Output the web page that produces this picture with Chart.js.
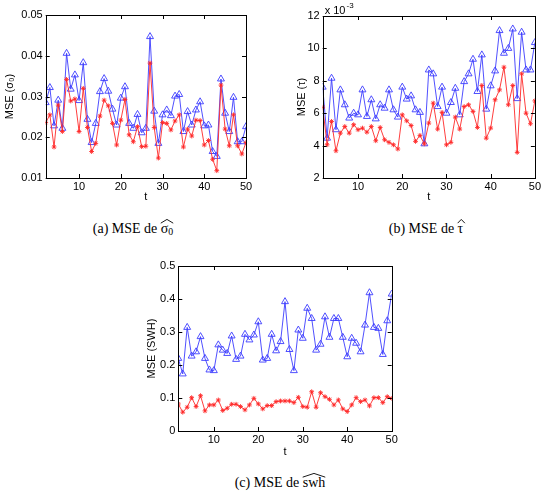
<!DOCTYPE html>
<html>
<head>
<meta charset="utf-8">
<script src="https://cdn.jsdelivr.net/npm/chart.js@4.4.1/dist/chart.umd.min.js"></script>
<style>
  body { margin:0; background:#fff; width:543px; height:499px; position:relative; overflow:hidden; }
  canvas { position:absolute; }
  .cap { position:absolute; font-family:"Liberation Serif", "Times New Roman", serif; font-size:14px; white-space:nowrap; transform:translate(-50%,-50%); }
  .hat { position:relative; display:inline-block; }
  .hat svg { position:absolute; left:0; top:-2px; width:100%; height:5px; overflow:visible; }
  sub { font-size:70%; vertical-align:-2px; line-height:0; }
</style>
</head>
<body>
<canvas id="chartA" width="255" height="205" style="left:0;top:0"></canvas>
<canvas id="chartB" width="253" height="205" style="left:290px;top:0"></canvas>
<canvas id="chartC" width="260" height="212" style="left:140px;top:250px"></canvas>

<div class="cap" style="left:133px;top:229px">(a) MSE de <span class="hat">σ<sub>0</sub><svg viewBox="0 0 20 6" preserveAspectRatio="none"><path d="M0 5 L10 0.5 L20 5" fill="none" stroke="#000" stroke-width="0.9" vector-effect="non-scaling-stroke"/></svg></span></div>
<div class="cap" style="left:426px;top:229px">(b) MSE de <span class="hat">τ<svg viewBox="0 0 20 6" preserveAspectRatio="none" style="left:-1px;width:9px"><path d="M2 5 L10 0.5 L18 5" fill="none" stroke="#000" stroke-width="0.9" vector-effect="non-scaling-stroke"/></svg></span></div>
<div class="cap" style="left:280px;top:483px">(c) MSE de <span class="hat">swh<svg viewBox="0 0 20 6" preserveAspectRatio="none"><path d="M0 5 L10 0.5 L20 5" fill="none" stroke="#000" stroke-width="0.9" vector-effect="non-scaling-stroke"/></svg></span></div>

<script>
// time steps
const t = [2, 3, 4, 5, 6, 7, 8, 9, 10, 11, 12, 13, 14, 15, 16, 17, 18, 19, 20, 21, 22, 23, 24, 25, 26,
  27, 28, 29, 30, 31, 32, 33, 34, 35, 36, 37, 38, 39, 40, 41, 42, 43, 44, 45, 46, 47, 48, 49, 50];
const xTicks = [10, 20, 30, 40, 50];

// (a) MSE of sigma0
const sigmaBlue = [.0285, .0322, .0228, .0291, .0222, .0406, .0318, .0353, .0290, .0383, .0244, .0187, .0234,
  .0312, .0344, .0313, .0269, .0230, .0296, .0324, .0234, .0222, .0256, .0211, .0222, .0447, .0264, .0185,
  .0255, .0267, .0253, .0301, .0305, .0214, .0263, .0230, .0267, .0287, .0228, .0230, .0165, .0153, .0343,
  .0259, .0214, .0298, .0189, .0189, .0226];
const sigmaRed = [.0236, .0255, .0176, .0279, .0214, .0342, .0289, .0294, .0214, .0320, .0224, .0165, .0185,
  .0252, .0291, .0277, .0234, .0181, .0242, .0293, .0206, .0189, .0226, .0177, .0178, .0382, .0224, .0149,
  .0236, .0234, .0218, .0240, .0255, .0176, .0220, .0203, .0242, .0241, .0181, .0192, .0146, .0118, .0328,
  .0220, .0179, .0255, .0179, .0159, .0187];
const sigmaTicks = [0.01, 0.02, 0.03, 0.04, 0.05];
const sigmaLabels = ['0.01', '0.02', '0.03', '0.04', '0.05'];

// (b) MSE of tau, in units of 1e-3
const tauBlue = [7.61, 4.46, 8.16, 4.98, 7.44, 6.52, 5.70, 6.0, 5.9, 7.44, 5.80, 6.83, 5.65, 6.52, 6.31, 7.44,
  6.21, 5.76, 7.61, 6.87, 7.07, 6.21, 6.05, 4.11, 8.67, 8.43, 6.41, 7.61, 6.0, 6.66, 7.54, 5.9, 7.95, 8.43,
  9.33, 7.34, 9.6, 6.25, 7.69, 8.61, 11.1, 9.7, 10.0, 11.2, 6.9, 11.0, 8.67, 8.67, 10.36];
const tauRed = [6.37, 4.05, 5.49, 3.68, 4.77, 5.18, 4.77, 5.29, 4.98, 5.08, 4.83, 5.18, 4.30, 5.12, 4.36, 4.20,
  4.05, 3.79, 5.90, 5.53, 5.24, 4.26, 4.63, 4.11, 5.39, 6.62, 5.02, 6.05, 4.05, 4.20, 5.76, 5.02, 6.41, 6.52,
  6.11, 5.12, 7.71, 4.46, 5.08, 6.83, 7.44, 8.84, 6.52, 7.71, 3.58, 8.43, 6.0, 5.35, 6.76];
const tauTicks = [2, 4, 6, 8, 10, 12];
const tauLabels = ['2', '4', '6', '8', '10', '12'];

// (c) MSE of SWH
const swhBlue = [.220, .173, .314, .227, .240, .286, .220, .185, .183, .261, .245, .235, .288, .217, .227, .293,
  .276, .291, .331, .215, .220, .293, .243, .271, .392, .247, .183, .306, .281, .372, .341, .245, .263, .346,
  .284, .341, .341, .284, .225, .281, .266, .240, .321, .419, .314, .311, .232, .334, .415];
const swhRed = [.082, .057, .072, .101, .074, .107, .061, .079, .079, .094, .062, .069, .081, .081, .074, .064,
  .079, .099, .082, .067, .077, .077, .089, .091, .091, .091, .086, .102, .074, .072, .119, .072, .116, .104,
  .096, .079, .094, .067, .059, .079, .101, .089, .094, .076, .101, .101, .086, .104, .099];
const swhTicks = [0, 0.1, 0.2, 0.3, 0.4, 0.5];
const swhLabels = ['0', '0.1', '0.2', '0.3', '0.4', '0.5'];

const FONT = '"Liberation Sans", Arial, sans-serif';

// matlab style box with inward ticks
const boxPlugin = {
  id: 'box',
  afterDraw(chart) {
    const { ctx, chartArea: a, scales: { x, y } } = chart;
    ctx.save();
    ctx.strokeStyle = '#000';
    ctx.lineWidth = 1;
    ctx.strokeRect(Math.round(a.left) + 0.5, Math.round(a.top) + 0.5,
      Math.round(a.right) - Math.round(a.left), Math.round(a.bottom) - Math.round(a.top));
    ctx.beginPath();
    x.ticks.forEach(tk => {
      const px = Math.round(x.getPixelForValue(tk.value)) + 0.5;
      ctx.moveTo(px, a.bottom); ctx.lineTo(px, a.bottom - 4);
      ctx.moveTo(px, a.top); ctx.lineTo(px, a.top + 4);
    });
    y.ticks.forEach(tk => {
      const py = Math.round(y.getPixelForValue(tk.value)) + 0.5;
      ctx.moveTo(a.left, py); ctx.lineTo(a.left + 4, py);
      ctx.moveTo(a.right, py); ctx.lineTo(a.right - 4, py);
    });
    ctx.stroke();
    const ex = chart.options.plugins.box && chart.options.plugins.box.exponent;
    if (ex) {
      ctx.fillStyle = '#000';
      ctx.font = '11px ' + FONT;
      ctx.textBaseline = 'alphabetic';
      ctx.fillText('x 10', a.left + 2, a.top - 2);
      const w = ctx.measureText('x 10').width;
      ctx.font = '8px ' + FONT;
      ctx.fillText(ex, a.left + 3 + w, a.top - 8);
    }
    ctx.restore();
  }
};

function series(vals, color, style, radius) {
  return {
    data: t.map((v, i) => ({ x: v, y: vals[i] })),
    borderColor: color,
    borderWidth: 0.9,
    pointStyle: style,
    pointRadius: radius,
    pointBorderColor: color,
    pointBackgroundColor: 'rgba(0,0,0,0)',
    pointBorderWidth: 0.9,
    tension: 0
  };
}

function makeChart(id, o) {
  return new Chart(document.getElementById(id), {
    type: 'line',
    data: {
      datasets: [
        series(o.red, 'rgb(255,40,40)', 'star', 2.4),
        series(o.blue, 'rgb(60,60,255)', 'triangle', 4)
      ]
    },
    options: {
      responsive: false,
      animation: false,
      devicePixelRatio: 1,
      layout: { padding: o.pad },
      plugins: { legend: { display: false }, tooltip: { enabled: false }, box: { exponent: o.exponent } },
      scales: {
        x: {
          type: 'linear', min: 2, max: 50,
          afterBuildTicks: s => { s.ticks = xTicks.map(v => ({ value: v })); },
          afterFit: s => { s.height = o.xh; },
          grid: { display: false, drawTicks: false },
          border: { display: false },
          ticks: { color: '#000', font: { family: FONT, size: 11 }, padding: 2, maxRotation: 0 },
          title: { display: true, text: 't', color: '#000', font: { family: FONT, size: 11 }, padding: { top: 0, bottom: o.tpad } }
        },
        y: {
          min: o.yTicks[0], max: o.yTicks[o.yTicks.length - 1],
          afterBuildTicks: s => { s.ticks = o.yTicks.map(v => ({ value: v })); },
          afterFit: s => { s.width = o.yw; },
          grid: { display: false, drawTicks: false },
          border: { display: false },
          ticks: {
            color: '#000', font: { family: FONT, size: 11 }, padding: o.ypad,
            callback: (v) => o.yLabels[o.yTicks.indexOf(v)]
          },
          title: { display: true, text: o.title, color: '#000', font: { family: FONT, size: 11 }, padding: { top: o.titlePad, bottom: 0 } }
        }
      }
    },
    plugins: [boxPlugin]
  });
}

makeChart('chartA', {
  blue: sigmaBlue, red: sigmaRed, yTicks: sigmaTicks, yLabels: sigmaLabels,
  title: 'MSE (σ₀)', pad: { top: 15, right: 9, left: 0, bottom: 0 }, yw: 45.7, xh: 27, ypad: 3, titlePad: 3, tpad: 1
});
makeChart('chartB', {
  blue: tauBlue, red: tauRed, yTicks: tauTicks, yLabels: tauLabels, exponent: '-3',
  title: 'MSE (τ)', pad: { top: 16, right: 5, left: 0, bottom: 0 }, yw: 32.7, xh: 27, ypad: 3, titlePad: 5, tpad: 1
});
makeChart('chartC', {
  blue: swhBlue, red: swhRed, yTicks: swhTicks, yLabels: swhLabels,
  title: 'MSE (SWH)', pad: { top: 16, right: 8.3, left: 0, bottom: 0 }, yw: 38.3, xh: 31, ypad: 3, titlePad: 5, tpad: 3
});
</script>
</body>
</html>
